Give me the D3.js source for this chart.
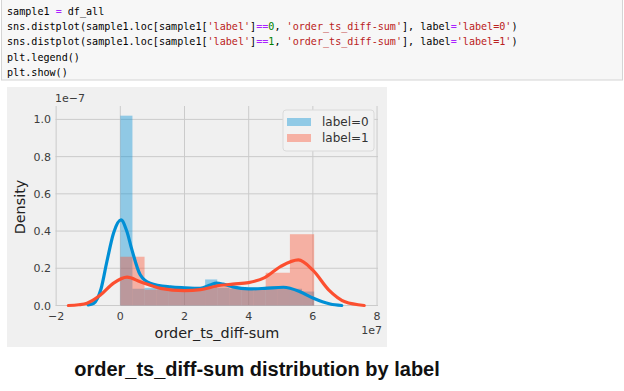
<!DOCTYPE html>
<html>
<head>
<meta charset="utf-8">
<script src="https://cdn.jsdelivr.net/npm/d3@7"></script>
<style>
  body { margin: 0; background: #ffffff; }
  svg { display: block; }
</style>
</head>
<body>
<svg id="chart" width="624" height="391"></svg>
<script>

// notebook cell above the figure
var codeLines = [
  [["sample1 ", "#000"], ["=", "#aa22ff"], [" df_all", "#000"]],
  [["sns.distplot(sample1.loc[sample1[", "#000"], ["'label'", "#ba2121"], ["]", "#000"], ["==", "#aa22ff"], ["0", "#008000"], [", ", "#000"], ["'order_ts_diff-sum'", "#ba2121"], ["], label", "#000"], ["=", "#aa22ff"], ["'label=0'", "#ba2121"], [")", "#000"]],
  [["sns.distplot(sample1.loc[sample1[", "#000"], ["'label'", "#ba2121"], ["]", "#000"], ["==", "#aa22ff"], ["1", "#008000"], [", ", "#000"], ["'order_ts_diff-sum'", "#ba2121"], ["], label", "#000"], ["=", "#aa22ff"], ["'label=1'", "#ba2121"], [")", "#000"]],
  [["plt.legend()", "#000"]],
  [["plt.show()", "#000"]]
];

var seriesNames = ["label=0", "label=1"];

// histogram bins, x in units of 1e7, density in units of 1e-7
var binWidth0 = 0.3775;
var hist0 = [1.02, 0.09, 0.095, 0.10, 0.095, 0.09, 0.09, 0.14, 0.095, 0.09, 0.09, 0.09, 0.10, 0.10, 0.09, 0.075];
var binWidth1 = 0.755;
var hist1 = [0.262, 0.085, 0.085, 0.10, 0.10, 0.095, 0.176, 0.383];

// kde curves
var kde0 = [[-1.0,0.003],[-0.83,0.012],[-0.6,0.09],[-0.42,0.235],[-0.21,0.39],[0.02,0.46],[0.2,0.40],[0.36,0.30],
            [0.62,0.165],[0.93,0.12],[1.56,0.10],[2.0,0.095],[2.49,0.092],[2.8,0.11],[3.0,0.12],[3.2,0.115],
            [3.5,0.10],[4.0,0.089],[4.5,0.092],[5.08,0.098],[5.6,0.074],[6.0,0.04],[6.54,0.008],[6.9,0.0]];
var kde1 = [[-1.62,0.0],[-1.3,0.004],[-1.04,0.012],[-0.62,0.056],[-0.21,0.12],[0.21,0.152],[0.62,0.128],
            [1.25,0.092],[2.0,0.08],[2.5,0.085],[3.0,0.105],[3.5,0.115],[4.0,0.123],[4.5,0.15],[5.0,0.21],
            [5.55,0.245],[6.0,0.19],[6.5,0.083],[7.0,0.02],[7.6,0.0]];

var xTicks = [-2, 0, 2, 4, 6, 8];
var yTicks = [0.0, 0.2, 0.4, 0.6, 0.8, 1.0];

var svg = d3.select("#chart");
var colors = ["#008fd5", "#fc4f30"];
var tickFont = "DejaVu Sans, sans-serif";

// code cell
svg.append("rect")
  .attr("x", 1.5).attr("y", -2).attr("width", 621).attr("height", 82)
  .attr("fill", "#f7f7f7").attr("stroke", "#d4d4d4");

codeLines.forEach(function(line, i){
  var t = svg.append("text")
    .attr("x", 7).attr("y", 14.5 + i * 15.4)
    .attr("font-family", "DejaVu Sans Mono, monospace")
    .attr("font-size", 10.1)
    .attr("xml:space", "preserve")
    .style("white-space", "pre");
  line.forEach(function(tok){
    t.append("tspan").attr("fill", tok[1]).text(tok[0]);
  });
});

// figure background
svg.append("rect")
  .attr("x", 7).attr("y", 87).attr("width", 380).attr("height", 260)
  .attr("fill", "#f0f0f0");

var sx = d3.scaleLinear().domain([-2.02, 8.03]).range([55.5, 378]);
var sy = d3.scaleLinear().domain([0, 1.072]).range([305.5, 106]);

// gridlines
var grid = svg.append("g").attr("stroke", "#cbcbcb").attr("stroke-width", 1);
grid.selectAll("line.v").data(xTicks).enter().append("line")
  .attr("x1", function(d){ return sx(d); }).attr("x2", function(d){ return sx(d); })
  .attr("y1", sy.range()[1]).attr("y2", sy.range()[0]);
grid.selectAll("line.h").data(yTicks).enter().append("line")
  .attr("y1", function(d){ return sy(d); }).attr("y2", function(d){ return sy(d); })
  .attr("x1", sx.range()[0]).attr("x2", sx.range()[1]);

// histograms
function drawHist(heights, width, colour){
  svg.append("g").selectAll("rect").data(heights).enter().append("rect")
    .attr("x", function(d, i){ return sx(i * width); })
    .attr("width", function(d, i){ return sx((i + 1) * width) - sx(i * width); })
    .attr("y", function(d){ return sy(d); })
    .attr("height", function(d){ return sy(0) - sy(d); })
    .attr("fill", colour)
    .attr("fill-opacity", 0.4);
}
drawHist(hist0, binWidth0, colors[0]);
drawHist(hist1, binWidth1, colors[1]);

// kde lines
var kdeLine = d3.line()
  .x(function(d){ return sx(d[0]); })
  .y(function(d){ return sy(d[1]); })
  .curve(d3.curveMonotoneX);

[kde0, kde1].forEach(function(k, i){
  svg.append("path")
    .attr("d", kdeLine(k))
    .attr("fill", "none")
    .attr("stroke", colors[i])
    .attr("stroke-width", 3.2)
    .attr("stroke-linecap", "round");
});

// tick labels
svg.append("g").selectAll("text").data(xTicks).enter().append("text")
  .attr("x", function(d){ return sx(d); })
  .attr("y", 319.5)
  .attr("text-anchor", "middle")
  .attr("font-family", tickFont).attr("font-size", 11).attr("fill", "#3c3c3c")
  .text(function(d){ return d < 0 ? "\u2212" + (-d) : d; });

svg.append("g").selectAll("text").data(yTicks).enter().append("text")
  .attr("x", 51)
  .attr("y", function(d){ return sy(d) + 4; })
  .attr("text-anchor", "end")
  .attr("font-family", tickFont).attr("font-size", 11).attr("fill", "#3c3c3c")
  .text(function(d){ return d3.format(".1f")(d); });

// offset texts
svg.append("text").attr("x", 55).attr("y", 102)
  .attr("font-family", tickFont).attr("font-size", 11).attr("fill", "#3c3c3c")
  .text("1e\u22127");
svg.append("text").attr("x", 382).attr("y", 334).attr("text-anchor", "end")
  .attr("font-family", tickFont).attr("font-size", 11).attr("fill", "#3c3c3c")
  .text("1e7");

// axis labels
svg.append("text").attr("x", 217).attr("y", 338).attr("text-anchor", "middle")
  .attr("font-family", tickFont).attr("font-size", 14.4).attr("fill", "#222")
  .text("order_ts_diff-sum");
svg.append("text")
  .attr("transform", "translate(25,207) rotate(-90)")
  .attr("text-anchor", "middle")
  .attr("font-family", tickFont).attr("font-size", 14.4).attr("fill", "#222")
  .text("Density");

// legend
var legend = svg.append("g");
legend.append("rect")
  .attr("x", 283).attr("y", 110).attr("width", 91).attr("height", 41).attr("rx", 3)
  .attr("fill", "#f2f2f2").attr("stroke", "#dadada");
seriesNames.forEach(function(name, i){
  legend.append("rect")
    .attr("x", 287).attr("y", 118 + i * 16).attr("width", 24).attr("height", 8)
    .attr("fill", colors[i]).attr("fill-opacity", 0.4);
  legend.append("text")
    .attr("x", 322).attr("y", 126 + i * 16)
    .attr("font-family", tickFont).attr("font-size", 12).attr("fill", "#333")
    .text(name);
});

// caption under the figure
svg.append("text").attr("x", 257).attr("y", 376).attr("text-anchor", "middle")
  .attr("font-family", "Liberation Sans, Arial, sans-serif").attr("font-weight", "bold")
  .attr("font-size", 20).attr("fill", "#111")
  .text("order_ts_diff-sum distribution by label");
</script>
</body>
</html>
